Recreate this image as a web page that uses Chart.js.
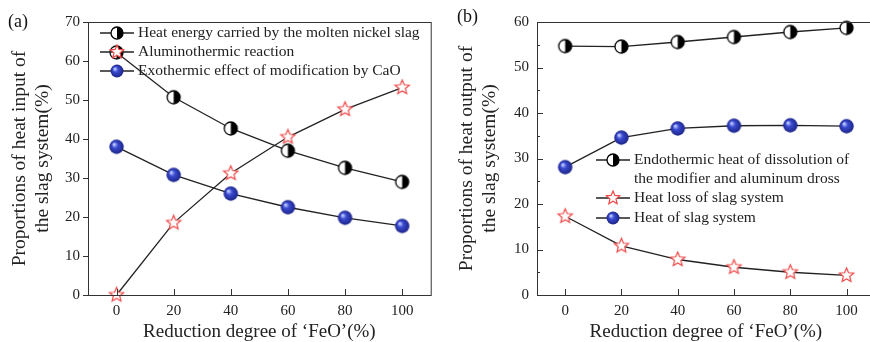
<!DOCTYPE html>
<html>
<head>
<meta charset="utf-8">
<script src="https://cdn.jsdelivr.net/npm/chart.js@4/dist/chart.umd.min.js"></script>
<style>
  body { margin: 0; background: #fff; }
  #wrap { position: relative; width: 870px; height: 342px; overflow: hidden; }
  #boxA { position: absolute; left: 0; top: 0; width: 436px; height: 342px; }
  #boxB { position: absolute; left: 440px; top: 0; width: 440px; height: 342px; }
</style>
</head>
<body>
<div id="wrap">
  <div id="boxA"><canvas id="chartA"></canvas></div>
  <div id="boxB"><canvas id="chartB"></canvas></div>
</div>
<script>
// reduction degree of FeO (%)
var reduction = [0, 20, 40, 60, 80, 100];

// (a) heat input
var moltenSlagHeat = [62.2, 50.7, 42.7, 37.0, 32.6, 29.0];
var aluminothermic = [0, 18.5, 31.2, 40.5, 47.6, 53.2];
var caoModification = [38.0, 30.8, 26.0, 22.5, 19.8, 17.7];

// (b) heat output
var dissolutionHeat = [54.7, 54.6, 55.6, 56.7, 57.8, 58.7];
var heatLoss = [17.3, 10.8, 7.8, 6.1, 5.0, 4.3];
var slagSystemHeat = [28.1, 34.6, 36.6, 37.2, 37.3, 37.1];

var yTicksA = [0, 10, 20, 30, 40, 50, 60, 70];
var yTicksB = [0, 10, 20, 30, 40, 50, 60];
var yMinorB = [5, 15, 25, 35, 45, 55];

var serif = "'Liberation Serif', 'Times New Roman', serif";
var lineColor = '#222';

function makeCanvas(w, h) {
    var c = document.createElement('canvas');
    c.width = w; c.height = h;
    return c;
}

function drawHalf(ctx, cx, cy, r) {
    ctx.beginPath();
    ctx.arc(cx, cy, r, 0, Math.PI * 2);
    ctx.fillStyle = '#fff';
    ctx.fill();
    ctx.beginPath();
    ctx.arc(cx, cy, r, -Math.PI / 2, Math.PI / 2);
    ctx.closePath();
    ctx.fillStyle = '#000';
    ctx.fill();
    ctx.beginPath();
    ctx.arc(cx, cy, r, 0, Math.PI * 2);
    ctx.lineWidth = 1.3;
    ctx.strokeStyle = '#000';
    ctx.stroke();
}

function drawSphere(ctx, cx, cy, r) {
    var g = ctx.createRadialGradient(cx - r * 0.35, cy - r * 0.35, r * 0.1, cx, cy, r);
    g.addColorStop(0, '#b8c4ff');
    g.addColorStop(0.35, '#3a4bd0');
    g.addColorStop(1, '#1c2488');
    ctx.beginPath();
    ctx.arc(cx, cy, r, 0, Math.PI * 2);
    ctx.fillStyle = g;
    ctx.fill();
}

function drawStar(ctx, cx, cy, r) {
    ctx.beginPath();
    for (var i = 0; i < 10; i++) {
        var rr = i % 2 === 0 ? r : r * 0.45;
        var a = -Math.PI / 2 + i * Math.PI / 5;
        var x = cx + rr * Math.cos(a), y = cy + rr * Math.sin(a);
        if (i === 0) ctx.moveTo(x, y); else ctx.lineTo(x, y);
    }
    ctx.closePath();
    ctx.fillStyle = '#fff';
    ctx.fill();
    ctx.lineWidth = 1.2;
    ctx.strokeStyle = '#f04848';
    ctx.stroke();
}

function marker(fn, r) {
    var s = Math.ceil(r * 2 + 4);
    var c = makeCanvas(s, s);
    fn(c.getContext('2d'), s / 2, s / 2, r);
    return c;
}

var halfPt = marker(drawHalf, 6.5);
var spherePt = marker(drawSphere, 7.2);
var starPt = marker(drawStar, 7.5);

// legend entries: line, marker, text
function legendPlugin(items, x0, rows) {
    return {
        id: 'legendBox',
        afterDraw: function(chart) {
            var ctx = chart.ctx;
            ctx.save();
            ctx.font = '15.5px ' + serif;
            ctx.textBaseline = 'middle';
            items.forEach(function(it, i) {
                var y = rows[i];
                ctx.beginPath();
                ctx.moveTo(x0, y);
                ctx.lineTo(x0 + 34, y);
                ctx.strokeStyle = lineColor;
                ctx.lineWidth = 1.3;
                ctx.stroke();
                it.draw(ctx, x0 + 17, y, it.r);
                ctx.fillStyle = '#222';
                [].concat(it.text).forEach(function(t, k) {
                    ctx.fillText(t, x0 + 38, y + k * 19);
                });
            });
            ctx.restore();
        }
    };
}

// frame round the plot, panel letter, and inward tick marks
function framePlugin(label, lx, ly, yInward, yMinor) {
    return {
        id: 'frame',
        afterDraw: function(chart) {
            var a = chart.chartArea, ctx = chart.ctx;
            var sx = chart.scales.x, sy = chart.scales.y;
            ctx.save();
            ctx.strokeStyle = '#333';
            ctx.lineWidth = 1;
            ctx.strokeRect(a.left + 0.5, a.top + 0.5, a.right - a.left, a.bottom - a.top);
            ctx.beginPath();
            reduction.forEach(function(v) {
                var px = Math.round(sx.getPixelForValue(v)) + 0.5;
                ctx.moveTo(px, a.bottom);
                ctx.lineTo(px, a.bottom - 6);
            });
            if (yInward) {
                yInward.forEach(function(v) {
                    var py = Math.round(sy.getPixelForValue(v)) + 0.5;
                    ctx.moveTo(a.left, py);
                    ctx.lineTo(a.left + 6, py);
                });
                yMinor.forEach(function(v) {
                    var py = Math.round(sy.getPixelForValue(v)) + 0.5;
                    ctx.moveTo(a.left, py);
                    ctx.lineTo(a.left + 3, py);
                });
            }
            ctx.stroke();
            ctx.font = '18px ' + serif;
            ctx.fillStyle = '#111';
            ctx.textBaseline = 'middle';
            ctx.fillText(label, lx, ly);
            ctx.restore();
        }
    };
}

function ds(values, pt) {
    return {
        data: values.map(function(v, i) { return { x: reduction[i], y: v }; }),
        borderColor: lineColor,
        borderWidth: 1.3,
        pointStyle: pt,
        tension: 0,
        clip: false
    };
}

function options(yTicks, yMax, yTitle, yWidth, titlePad, yOutTicks) {
    return {
        responsive: true,
        maintainAspectRatio: false,
        animation: false,
        events: [],
        layout: { padding: { top: 22, right: 5, left: 0, bottom: 0 } },
        plugins: { legend: { display: false }, tooltip: { enabled: false } },
        scales: {
            x: {
                type: 'linear',
                min: -10,
                max: 110,
                afterBuildTicks: function(s) { s.ticks = reduction.map(function(v) { return { value: v }; }); },
                afterFit: function(s) { s.height = 47; },
                grid: { drawOnChartArea: false, drawTicks: false },
                border: { color: '#333' },
                ticks: { color: '#222', font: { family: serif, size: 15 }, padding: 7 },
                title: { display: true, text: 'Reduction degree of \u2018FeO\u2019(%)', color: '#222',
                         font: { family: serif, size: 19, lineHeight: 1.0 }, padding: { top: 1, bottom: 0 } }
            },
            y: {
                min: 0,
                max: yMax,
                afterBuildTicks: function(s) { s.ticks = yTicks.map(function(v) { return { value: v }; }); },
                afterFit: function(s) { s.width = yWidth; },
                grid: { drawOnChartArea: false, drawTicks: yOutTicks, tickLength: 5, color: '#333' },
                border: { color: '#333' },
                ticks: { color: '#222', font: { family: serif, size: 15 }, padding: yOutTicks ? 3 : 8 },
                title: { display: true, text: yTitle, color: '#222',
                         font: { family: serif, size: 19.5, lineHeight: 1.2 }, padding: { top: titlePad, bottom: 0 } }
            }
        }
    };
}

new Chart(document.getElementById('chartA'), {
    type: 'line',
    data: {
        datasets: [
            ds(moltenSlagHeat, halfPt),
            ds(aluminothermic, starPt),
            ds(caoModification, spherePt)
        ]
    },
    options: options(yTicksA, 70, ['Proportions of heat input of', 'the slag system(%)'], 88, 8, true),
    plugins: [
        framePlugin('(a)', 8, 22, null, null),
        legendPlugin([
            { draw: drawHalf, r: 6, text: 'Heat energy carried by the molten nickel slag' },
            { draw: drawStar, r: 7, text: 'Aluminothermic reaction' },
            { draw: drawSphere, r: 6.5, text: 'Exothermic effect of modification by CaO' }
        ], 100, [33, 52, 71])
    ]
});

new Chart(document.getElementById('chartB'), {
    type: 'line',
    data: {
        datasets: [
            ds(dissolutionHeat, halfPt),
            ds(heatLoss, starPt),
            ds(slagSystemHeat, spherePt)
        ]
    },
    options: options(yTicksB, 60, ['Proportions of heat output of', 'the slag system(%)'], 97, 15, false),
    plugins: [
        framePlugin('(b)', 17, 17, yTicksB, yMinorB),
        legendPlugin([
            { draw: drawHalf, r: 6, text: ['Endothermic heat of dissolution of', 'the modifier and aluminum dross'] },
            { draw: drawStar, r: 7, text: 'Heat loss of slag system' },
            { draw: drawSphere, r: 6.5, text: 'Heat of slag system' }
        ], 156, [160, 198, 218])
    ]
});
</script>
</body>
</html>
